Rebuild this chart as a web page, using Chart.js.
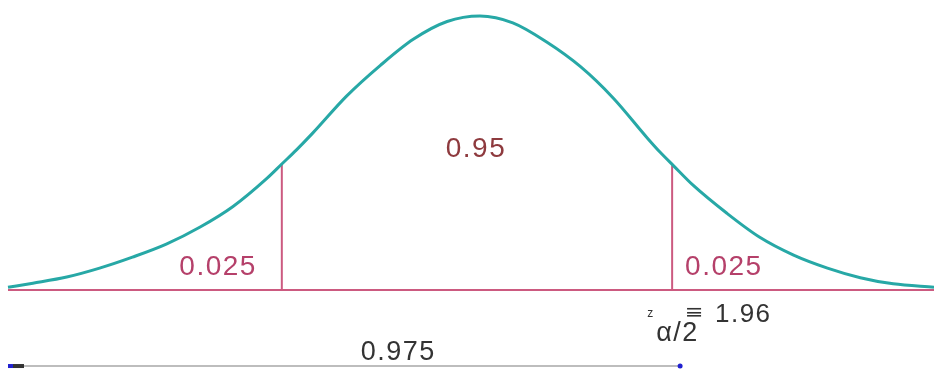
<!DOCTYPE html>
<html>
<head>
<meta charset="utf-8">
<script src="https://cdn.jsdelivr.net/npm/chart.js@4/dist/chart.umd.min.js"></script>
<style>
html,body{margin:0;padding:0;background:#fff;}
#wrap{width:934px;height:369px;position:relative;}
</style>
</head>
<body>
<div id="wrap"><canvas id="c"></canvas></div>
<script>
// z positions along the curve (standard units) and density
const zValues = [-4.71,-4.46,-4.12,-3.79,-3.46,-3.12,-2.78,-2.45,-2.11,-1.96,-1.81,-1.65,-1.31,-0.97,-0.64,-0.30,0.03,0.36,0.70,1.04,1.37,1.71,1.84,1.97,2.17,2.51,2.84,3.18,3.52,3.85,4.18,4.59];
const density = [0.004,0.010,0.019,0.032,0.048,0.067,0.092,0.122,0.163,0.184,0.205,0.229,0.283,0.328,0.366,0.392,0.400,0.390,0.362,0.326,0.280,0.222,0.201,0.182,0.153,0.112,0.077,0.051,0.032,0.018,0.009,0.004];
const criticalZ = [-1.96, 1.96];
const criticalHeight = [0.184, 0.182];
const areaLabels = ["0.025", "0.95", "0.025"];
const cumulativeLabel = "0.975";
const criticalLabel = "1.96";
const xMin = -4.71, xMax = 4.59;

const curveData = zValues.map((z, i) => ({x: z, y: density[i]}));
const baseline = [{x: xMin, y: 0}, {x: xMax, y: 0}];
const vLeft = [{x: criticalZ[0], y: 0}, {x: criticalZ[0], y: criticalHeight[0]}];
const vRight = [{x: criticalZ[1], y: 0}, {x: criticalZ[1], y: criticalHeight[1]}];

const PINK = '#cc5a80';
const TEAL = '#27a8a6';

const textPlugin = {
  id: 'texts',
  afterDatasetsDraw(chart) {
    const {ctx, scales: {x, y}} = chart;
    ctx.save();
    ctx.textBaseline = 'alphabetic';
    ctx.textAlign = 'center';
    ctx.letterSpacing = '1.5px';
    // area labels
    ctx.font = '28px "Liberation Sans", Arial, sans-serif';
    ctx.fillStyle = '#b5406a';
    ctx.fillText(areaLabels[0], x.getPixelForValue(-2.6), y.getPixelForValue(0.0219));
    ctx.fillText(areaLabels[2], x.getPixelForValue(2.48), y.getPixelForValue(0.0219));
    ctx.fillStyle = '#8e3a3e';
    ctx.fillText(areaLabels[1], x.getPixelForValue(-0.01), y.getPixelForValue(0.194));
    // critical value label
    ctx.fillStyle = '#333';
    ctx.textAlign = 'left';
    ctx.letterSpacing = '0px';
    ctx.font = '12px "Liberation Sans", Arial, sans-serif';
    ctx.fillText('z', x.getPixelForValue(1.71), y.getPixelForValue(-0.0395));
    ctx.letterSpacing = '1.5px';
    ctx.font = '27px "Liberation Sans", Arial, sans-serif';
    ctx.fillText('\u03b1/2', x.getPixelForValue(1.80), y.getPixelForValue(-0.0745));
    ctx.letterSpacing = '0px';
    // "=" sign stacked on the fraction bar
    const ex0 = x.getPixelForValue(2.11);
    [-0.0262, -0.0321, -0.0365].forEach(v => ctx.fillRect(ex0, y.getPixelForValue(v), 14, 1.6));
    ctx.letterSpacing = '1.5px';
    ctx.font = '26px "Liberation Sans", Arial, sans-serif';
    ctx.fillText(criticalLabel, x.getPixelForValue(2.39), y.getPixelForValue(-0.0465));
    // cumulative bracket
    ctx.textAlign = 'center';
    ctx.font = '27px "Liberation Sans", Arial, sans-serif';
    ctx.fillText(cumulativeLabel, x.getPixelForValue(-0.79), y.getPixelForValue(-0.1015));
    ctx.letterSpacing = '0px';
    const yb = y.getPixelForValue(-0.1110);
    const x0 = x.getPixelForValue(-4.71), x1 = x.getPixelForValue(2.04);
    ctx.strokeStyle = '#bdbdbd';
    ctx.lineWidth = 2;
    ctx.beginPath(); ctx.moveTo(x0, yb); ctx.lineTo(x1, yb); ctx.stroke();
    ctx.fillStyle = '#2020d0';
    ctx.fillRect(x0, yb - 2, 5, 4);
    ctx.fillStyle = '#333';
    ctx.fillRect(x0 + 5, yb - 2, 11, 4);
    ctx.fillStyle = '#2020d0';
    ctx.beginPath(); ctx.arc(x1, yb, 2.5, 0, Math.PI * 2); ctx.fill();
    ctx.restore();
  }
};

new Chart(document.getElementById('c'), {
  type: 'line',
  data: {
    datasets: [
      {data: baseline, borderColor: PINK, borderWidth: 2, pointRadius: 0, order: 3},
      {data: vLeft, borderColor: PINK, borderWidth: 2, pointRadius: 0, order: 2},
      {data: vRight, borderColor: PINK, borderWidth: 2, pointRadius: 0, order: 2},
      {data: curveData, borderColor: TEAL, borderWidth: 3, pointRadius: 0, cubicInterpolationMode: 'monotone', order: 1}
    ]
  },
  options: {
    responsive: true,
    maintainAspectRatio: false,
    animation: false,
    events: [],
    clip: false,
    layout: {padding: {left: 8, right: 0, top: 0, bottom: 79}},
    plugins: {legend: {display: false}, tooltip: {enabled: false}},
    scales: {
      x: {type: 'linear', min: xMin, max: xMax, display: false},
      y: {type: 'linear', min: 0, max: 0.4234, display: false}
    }
  },
  plugins: [textPlugin]
});
</script>
</body>
</html>
